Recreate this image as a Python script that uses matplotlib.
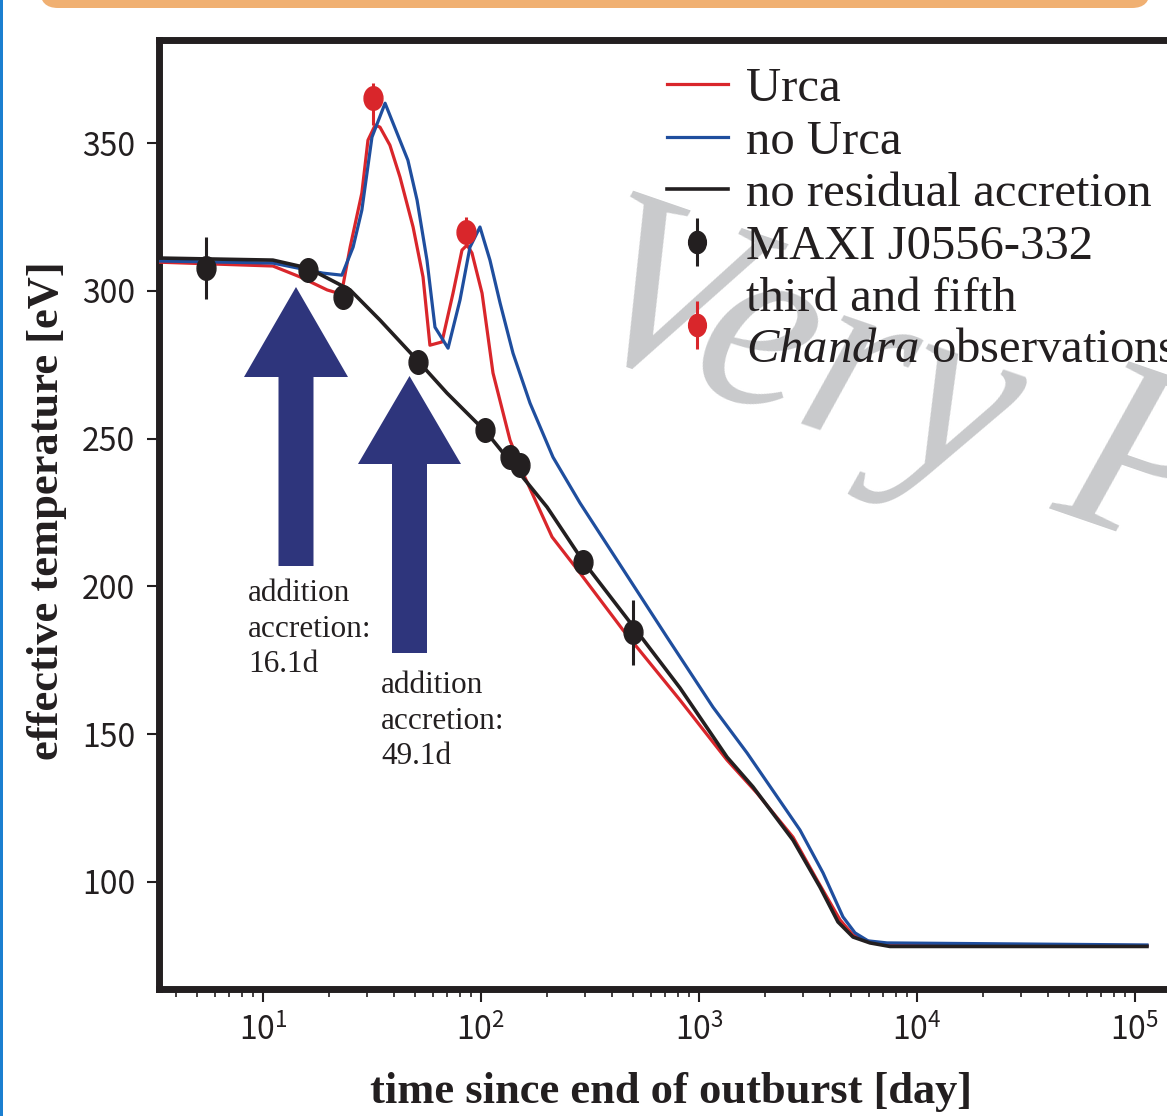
import matplotlib
matplotlib.use('Agg')
import matplotlib.pyplot as plt
from matplotlib.patches import Polygon, FancyBboxPatch, Rectangle
from matplotlib.path import Path
from matplotlib.transforms import Affine2D, IdentityTransform
from matplotlib.font_manager import FontProperties
from matplotlib.lines import Line2D

W, H = 1167, 1116
plt.rcParams['font.family'] = ['Noto Sans CJK JP', 'DejaVu Sans']
plt.rcParams['mathtext.fontset'] = 'custom'
plt.rcParams['mathtext.rm'] = 'Liberation Serif'
plt.rcParams['mathtext.it'] = 'Liberation Serif:italic'
plt.rcParams['mathtext.bf'] = 'Liberation Serif:bold'

# ---------------- data ----------------
t_urca = [3.33, 11.1, 14.8, 19.7, 22.1, 23.3, 25.1, 28.4, 30.3, 32.7, 34.4, 38.2, 42.5, 48.8,
          54.2, 58.3, 66.2, 74.4, 81.8, 86.3, 90.9, 101.1, 113.5, 135.8, 155.8, 211.8, 284.5,
          448, 818, 1344, 1845, 2699, 3478, 4435, 5086, 6087, 7286, 113500]
T_urca = [309.7, 308.4, 304.7, 300.3, 299.2, 302.0, 314.8, 333.1, 351.0, 356.1, 355.4, 349.3,
          338.5, 321.6, 304.7, 281.6, 282.7, 299.2, 313.8, 315.5, 312.8, 299.2, 272.2, 249.5,
          238.3, 216.7, 204.5, 185.2, 161.5, 141.2, 130.0, 115.1, 100.6, 87.1, 82.0, 79.6,
          78.6, 78.4]

t_nourca = [3.33, 11.1, 16.1, 18.8, 23.0, 25.9, 28.4, 31.6, 36.3, 46.2, 50.9, 56.5, 61.5, 70.6,
            80.1, 89.0, 98.9, 109.9, 122.3, 140.2, 167.8, 213.9, 284.5, 482.5, 713, 1159, 1661,
            2906, 3706, 4576, 5195, 5960, 7286, 113500]
T_nourca = [310.1, 309.4, 307.0, 306.0, 305.3, 314.8, 327.3, 352.0, 363.5, 344.2, 330.7, 310.4,
            287.7, 280.6, 296.9, 314.8, 321.6, 310.4, 295.9, 278.9, 262.0, 243.7, 228.2, 202.1,
            182.8, 159.1, 143.6, 117.5, 103.0, 88.1, 82.7, 80.0, 79.3, 78.6]

t_noacc = [3.33, 11.1, 16.1, 25.1, 34.4, 50.9, 69.8, 106.5, 140.2, 200.9, 293.8, 498, 818,
           1344, 1769, 2699, 3589, 4341, 5086, 6087, 7517, 113500]
T_noacc = [311.1, 310.4, 307.7, 300.3, 290.1, 276.6, 265.4, 251.9, 241.0, 226.8, 208.5, 186.5,
           165.6, 142.2, 132.1, 114.1, 98.2, 86.4, 81.3, 79.3, 78.1, 78.1]

t_maxi = [5.48, 16.1, 23.3, 51.4, 104, 136, 151, 294, 498]
T_maxi = [307.7, 307.0, 297.9, 275.9, 252.9, 243.7, 241.0, 208.2, 184.5]
err_maxi = [10.5, 2, 2, 2, 2, 2, 2, 2, 11]

t_chandra = [32.0, 85.3]
T_chandra = [365.2, 319.9]
err_chandra_lo = [9, 5]
err_chandra_hi = [5, 5]

yticks = [100, 150, 200, 250, 300, 350]
labels = ['Urca', 'no Urca', 'no residual accretion', 'MAXI J0556-332',
          'third and fifth\n$\\mathit{Chandra}$ observations']
notes = ['addition\naccretion:\n16.1d', 'addition\naccretion:\n49.1d']

RED = '#d9262b'
BLUE = '#1f4e9e'
BLACK = '#231f20'
NAVY = '#2e357c'

fig = plt.figure(figsize=(W / 100, H / 100), dpi=100)

def P(x, y):
    return (x, H - y)

# poster decorations
fig.patches.append(FancyBboxPatch(P(40, 8), 1110, 40, boxstyle='round,pad=0,rounding_size=18',
                                  transform=IdentityTransform(), facecolor='#f0b072',
                                  edgecolor='none', figure=fig))
fig.patches.append(Rectangle((0, 0), 3, H, transform=IdentityTransform(), facecolor='#1b7fd0',
                             edgecolor='none', figure=fig))

ax = fig.add_axes([159 / W, (H - 989) / H, (1190 - 159) / W, (989 - 40) / H])
ax.set_xscale('log')
ax.set_xlim(3.333, 1.788e5)
ax.set_ylim(63.7, 384.9)

lw = 2.3
l1, = ax.plot(t_urca, T_urca, color=RED, lw=lw, zorder=3)
l2, = ax.plot(t_nourca, T_nourca, color=BLUE, lw=lw, zorder=3)
l3, = ax.plot(t_noacc, T_noacc, color=BLACK, lw=2.6, zorder=4)

ell = Path.unit_circle().transformed(Affine2D().scale(0.8, 1.0))
ax.errorbar(t_maxi, T_maxi, yerr=err_maxi, fmt='none', ecolor=BLACK, elinewidth=2.2,
            capsize=0, zorder=5)
ax.plot(t_maxi, T_maxi, ls='none', marker=ell, ms=17, color=BLACK, mec=BLACK, zorder=6)
ax.errorbar(t_chandra, T_chandra, yerr=[err_chandra_lo, err_chandra_hi], fmt='none',
            ecolor=RED, elinewidth=2.2, capsize=0, zorder=5)
ax.plot(t_chandra, T_chandra, ls='none', marker=ell, ms=17, color=RED, mec=RED, zorder=6)

leg_maxi = (Line2D([0], [0], ls='none', marker='|', ms=34, mew=2.2, color=BLACK),
            Line2D([0], [0], ls='none', marker=ell, ms=16, color=BLACK))
leg_ch = (Line2D([0], [0], ls='none', marker='|', ms=34, mew=2.2, color=RED),
          Line2D([0], [0], ls='none', marker=ell, ms=16, color=RED))
leg = ax.legend([l1, l2, l3, leg_maxi, leg_ch], labels, loc='upper left',
                bbox_to_anchor=(667 / W, 1 - 67 / H), bbox_transform=fig.transFigure,
                frameon=False, prop=FontProperties(family='Liberation Serif', size=35),
                handlelength=1.25, handletextpad=0.38, labelspacing=0.175, borderpad=0,
                borderaxespad=0)
for t in leg.get_texts():
    t.set_color(BLACK)
leg.set_zorder(7)

# spines & ticks
for s in ax.spines.values():
    s.set_linewidth(5)
    s.set_color(BLACK)
ax.set_yticks(yticks)
ax.tick_params(axis='both', which='major', direction='out', length=9, width=1.5,
               color=BLACK, labelsize=23, pad=8, labelcolor=BLACK)
ax.tick_params(axis='x', which='minor', direction='out', length=5.5, width=1.2, color=BLACK)
ax.tick_params(axis='y', which='minor', left=False)

# axis titles
fig.text(671 / W, 1 - 1092 / H, 'time since end of outburst [day]', ha='center', va='center',
         family='Liberation Serif', weight='bold', size=32, color=BLACK)
fig.text(47 / W, 1 - 511 / H, 'effective temperature [eV]', ha='center', va='center',
         rotation=90, family='Liberation Serif', weight='bold', size=32, color=BLACK)

# watermark
ax.text(566, H - 342, 'Very Preliminary', transform=IdentityTransform(), rotation=-19,
        rotation_mode='anchor', ha='left', va='baseline', fontsize=182,
        family='Liberation Serif', style='italic', color='#c9cacc', zorder=1)

# arrows (pixel geometry)
def block_arrow(xc, ytip, ybase, ybot, hw, sw):
    pts = [(xc, ytip), (xc + hw, ybase), (xc + sw, ybase), (xc + sw, ybot), (xc - sw, ybot),
           (xc - sw, ybase), (xc - hw, ybase)]
    fig.patches.append(Polygon([P(x, y) for x, y in pts], closed=True,
                               transform=IdentityTransform(), facecolor=NAVY,
                               edgecolor='none', figure=fig, zorder=3))

block_arrow(296, 287, 377, 566, 52, 17.5)
block_arrow(409.5, 376, 464, 653, 51.5, 17.5)

fig.text(248 / W, 1 - 579 / H, notes[0], ha='left', va='top', family='Liberation Serif',
         size=22.5, color=BLACK, linespacing=1.3)
fig.text(381 / W, 1 - 671 / H, notes[1], ha='left', va='top', family='Liberation Serif',
         size=22.5, color=BLACK, linespacing=1.3)

fig.savefig('out.png', dpi=100)
